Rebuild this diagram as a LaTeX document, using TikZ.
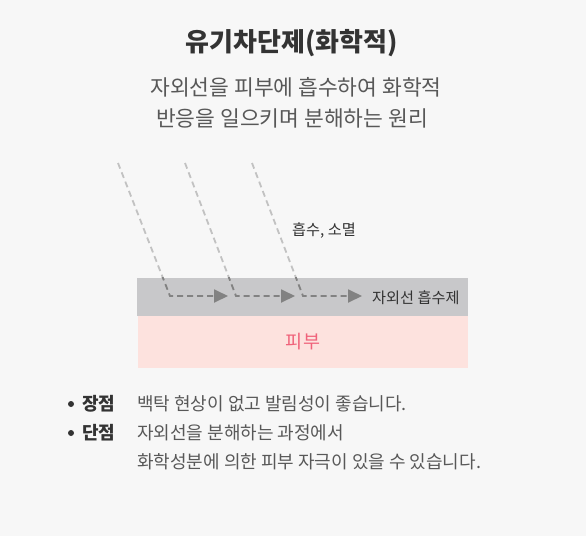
\documentclass[tikz,border=0pt]{standalone}
\usepackage{fontspec}
\setmainfont{Noto Sans CJK KR}
\usetikzlibrary{arrows.meta}
\definecolor{paper}{RGB}{247,247,247}
\definecolor{filmgray}{RGB}{200,200,202}
\definecolor{skinpink}{RGB}{253,226,222}
\definecolor{skintext}{RGB}{240,98,122}
\definecolor{raylight}{RGB}{194,194,194}
\definecolor{raydark}{RGB}{130,130,130}
\definecolor{ink}{RGB}{51,51,51}
\definecolor{softink}{RGB}{88,88,88}
\tikzset{uvray/.style={draw=raylight,line width=1.8pt,dash pattern=on 6pt off 4pt,
                       -{Triangle[length=14pt,width=13pt]}},
         uvraydark/.style={uvray,draw=raydark},
         bodytext/.style={anchor=west,text=softink,font=\fontsize{18}{20}\selectfont,inner sep=0pt},
         tagtext/.style={anchor=west,text=ink,font=\fontsize{18}{20}\selectfont\bfseries,inner sep=0pt},
         bullet/.style={circle,fill=ink,inner sep=0pt,minimum size=6pt}}

\begin{document}
\begin{tikzpicture}[x=1pt,y=-1pt]
  % page: 586 x 536, y runs downward
  \fill[paper] (0,0) rectangle (586,536);
  \useasboundingbox (0,0) rectangle (586,536);

  % heading
  \node[text=ink,font=\fontsize{26}{30}\selectfont\bfseries] (title) at (292,43) {유기차단제(화학적)};
  \node[text=softink,font=\fontsize{21.5}{24}\selectfont] (sub1) at (296,87) {자외선을 피부에 흡수하여 화학적};
  \node[text=softink,font=\fontsize{21.5}{24}\selectfont] (sub2) at (292,118) {반응을 일으키며 분해하는 원리};

  % layers
  \node[fill=filmgray,minimum width=331,minimum height=38,inner sep=0pt] (film) at (302.5,297) {};
  \node[fill=skinpink,minimum width=330,minimum height=52,inner sep=0pt] (skin) at (303,342)
       {\textcolor{skintext}{\fontsize{18.5}{20}\selectfont 피부}};
  \node[anchor=west,text=ink,font=\fontsize{15.2}{17}\selectfont,inner sep=0pt] (filmlabel) at (372,298) {자외선 흡수제};
  \node[text=ink,font=\fontsize{15.2}{17}\selectfont] (absorb) at (324,231) {흡수, 소멸};

  % rays
  \coordinate (s1) at (118,163); \coordinate (b1) at (170,296); \coordinate (t1) at (228,296);
  \coordinate (s2) at (185,163); \coordinate (b2) at (236,296); \coordinate (t2) at (295,296);
  \coordinate (s3) at (252,163); \coordinate (b3) at (303,296); \coordinate (t3) at (362,296);
  \draw[uvray] (s1) -- (b1) -- (t1);
  \draw[uvray] (s2) -- (b2) -- (t2);
  \draw[uvray] (s3) -- (b3) -- (t3);
  \begin{scope}
    \clip (film.north west) rectangle (film.south east);
    \draw[uvraydark] (s1) -- (b1) -- (t1);
    \draw[uvraydark] (s2) -- (b2) -- (t2);
    \draw[uvraydark] (s3) -- (b3) -- (t3);
  \end{scope}

  % pros and cons
  \node[bullet] (dot1) at (71,404) {};
  \node[bullet] (dot2) at (71,433) {};
  \node[tagtext] (pro) at (82,404) {장점};
  \node[tagtext] (con) at (82,433) {단점};
  \node[bodytext] (proline) at (137,404) {백탁 현상이 없고 발림성이 좋습니다.};
  \node[bodytext] (conline1) at (137,433) {자외선을 분해하는 과정에서};
  \node[bodytext] (conline2) at (137,462) {화학성분에 의한 피부 자극이 있을 수 있습니다.};
\end{tikzpicture}
\end{document}
